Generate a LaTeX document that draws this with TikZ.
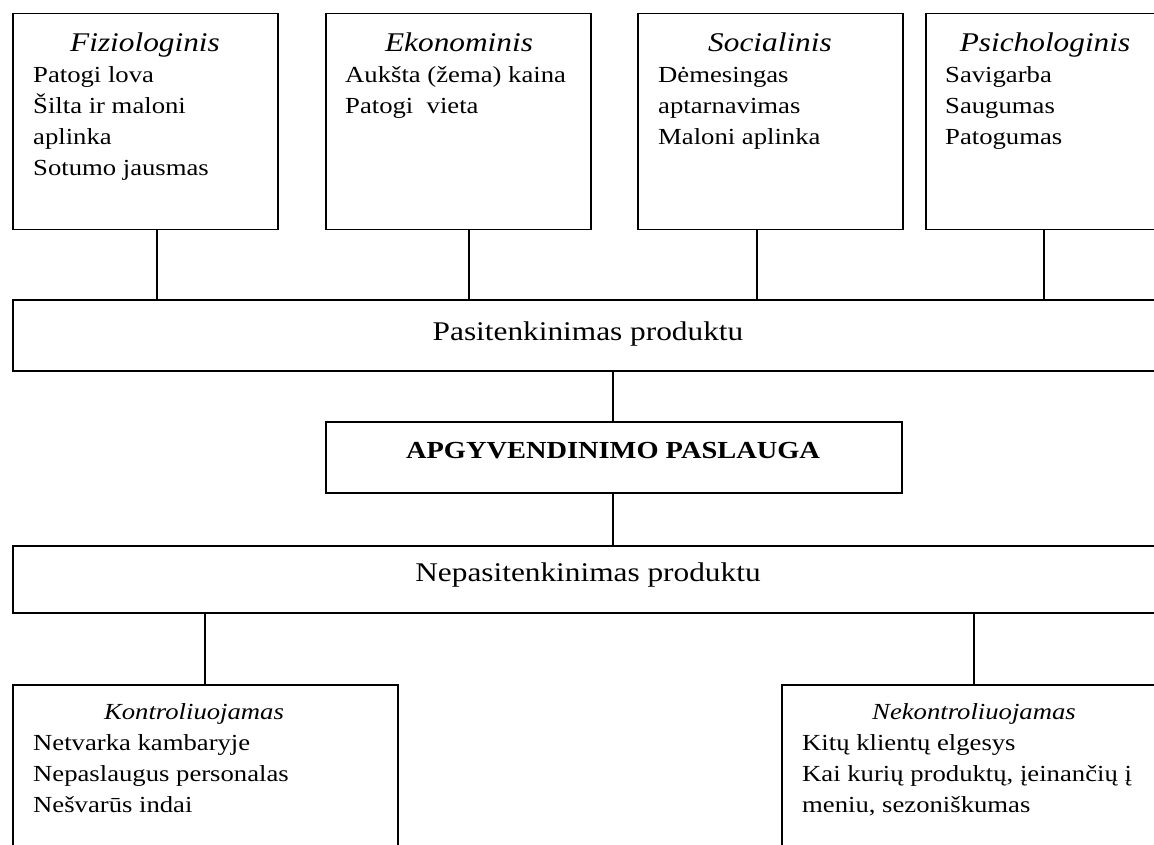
\documentclass[tikz,border=0pt]{standalone}
\usepackage{fontspec}
\setmainfont{Liberation Serif}[FakeStretch=1.16]
\begin{document}
\begin{tikzpicture}[x=1pt,y=-1pt,
  box/.style={draw, line width=1.5pt, inner sep=0pt, anchor=north west},
  conn/.style={draw, line width=1.4pt},
  ttl/.style={font=\fontsize{27}{31}\selectfont\itshape, anchor=base, inner sep=0pt},
  sttl/.style={font=\fontsize{23}{31}\selectfont\itshape, anchor=base, inner sep=0pt},
  body/.style={font=\fontsize{23}{31}\selectfont, anchor=base west, align=left, inner sep=0pt},
  mid/.style={font=\fontsize{27}{31}\selectfont, anchor=base, inner sep=0pt},
  apgtext/.style={font=\fontsize{24.5}{31}\selectfont\bfseries, anchor=base, inner sep=0pt}]
\useasboundingbox (0,0) rectangle (1154,845);
\clip (0,0) rectangle (1154,845);
% top boxes
\node[box, minimum width=265pt, minimum height=216pt] (fz) at (12,13) {};
\node[box, minimum width=265pt, minimum height=216pt] (ek) at (325,13) {};
\node[box, minimum width=265pt, minimum height=216pt] (so) at (637,13) {};
\node[box, minimum width=265pt, minimum height=216pt] (ps) at (925,13) {};
% middle boxes
\node[box, minimum width=1160pt, minimum height=71pt] (pas) at (12,299) {};
\node[box, minimum width=576pt, minimum height=71pt] (apg) at (325,421) {};
\node[box, minimum width=1160pt, minimum height=67pt] (nep) at (12,545) {};
% bottom boxes
\node[box, minimum width=385pt, minimum height=200pt] (ko) at (12,684) {};
\node[box, minimum width=420pt, minimum height=200pt] (nk) at (781,684) {};
% connector columns
\coordinate (x1) at (157,0);
\coordinate (x2) at (469,0);
\coordinate (x3) at (757,0);
\coordinate (x4) at (1044,0);
\coordinate (xm) at (613,0);
\coordinate (xk) at (205,0);
\coordinate (xn) at (974,0);
\draw[conn] (fz.south -| x1) -- (pas.north -| x1);
\draw[conn] (ek.south -| x2) -- (pas.north -| x2);
\draw[conn] (so.south -| x3) -- (pas.north -| x3);
\draw[conn] (ps.south -| x4) -- (pas.north -| x4);
\draw[conn] (pas.south -| xm) -- (apg.north -| xm);
\draw[conn] (apg.south -| xm) -- (nep.north -| xm);
\draw[conn] (nep.south -| xk) -- (ko.north -| xk);
\draw[conn] (nep.south -| xn) -- (nk.north -| xn);
% texts top (body nodes anchored at the baseline of their last line)
\node[ttl] (fzt) at (145,52) {Fiziologinis};
\node[body] (fzb) at (33,176) {Patogi lova\\Šilta ir maloni\\aplinka\\Sotumo jausmas};
\node[ttl] (ekt) at (459,52) {Ekonominis};
\node[body] (ekb) at (345,114) {Aukšta (žema) kaina\\Patogi\ \ vieta};
\node[ttl] (sot) at (770,52) {Socialinis};
\node[body] (sob) at (658,145) {Dėmesingas\\aptarnavimas\\Maloni aplinka};
\node[ttl] (pst) at (1045,52) {Psichologinis};
\node[body] (psb) at (945,145) {Savigarba\\Saugumas\\Patogumas};
% middle texts
\node[mid] (past) at (588,340) {Pasitenkinimas produktu};
\node[apgtext] (apgt) at (613,458) {APGYVENDINIMO PASLAUGA};
\node[mid] (nept) at (588,581) {Nepasitenkinimas produktu};
% bottom texts
\node[sttl] (kot) at (194,719) {Kontroliuojamas};
\node[body] (kob) at (33,812) {Netvarka kambaryje\\Nepaslaugus personalas\\Nešvarūs indai};
\node[sttl] (nkt) at (974,719) {Nekontroliuojamas};
\node[body] (nkb) at (802,812) {Kitų klientų elgesys\\Kai kurių produktų, įeinančių į\\meniu, sezoniškumas};
\end{tikzpicture}
\end{document}
